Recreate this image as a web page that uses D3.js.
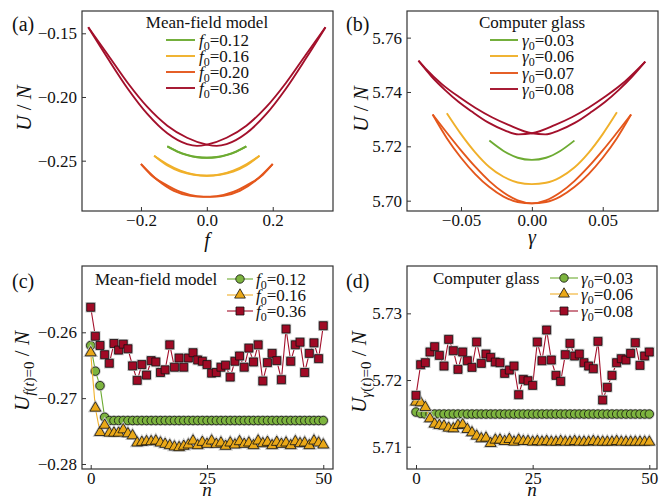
<!DOCTYPE html>
<html>
<head>
<meta charset="utf-8">
<title></title>
<style>
  body { margin: 0; background: #fff; }
  text { font-family: "Liberation Serif", "Times New Roman", Times, serif; fill: #111; }
</style>
</head>
<body>
<svg id="chart" xmlns="http://www.w3.org/2000/svg" width="667" height="502"></svg>

<script src="https://d3js.org/d3.v7.min.js"></script>
<script>

// ---- (a) mean-field model: U/N vs f, one loop per amplitude, two branches each
const mf012Down = [[-0.12,-0.2388],[-0.09,-0.2428],[-0.06,-0.2456],[-0.03,-0.2473],[0,-0.2477],[0.03,-0.2471],[0.06,-0.2454],[0.09,-0.2426],[0.12,-0.2388]];
const mf012Up   = [[-0.12,-0.2388],[-0.09,-0.2426],[-0.06,-0.2454],[-0.03,-0.2471],[0,-0.2477],[0.03,-0.2473],[0.06,-0.2456],[0.09,-0.2428],[0.12,-0.2388]];
const mf016Down = [[-0.16,-0.2461],[-0.12,-0.2528],[-0.08,-0.2578],[-0.04,-0.2608],[0,-0.2618],[0.04,-0.2610],[0.08,-0.2585],[0.12,-0.2537],[0.16,-0.2461]];
const mf016Up   = [[-0.16,-0.2461],[-0.12,-0.2537],[-0.08,-0.2585],[-0.04,-0.2610],[0,-0.2618],[0.04,-0.2608],[0.08,-0.2578],[0.12,-0.2528],[0.16,-0.2461]];
const mf020Down = [[-0.20,-0.2526],[-0.15,-0.2652],[-0.10,-0.2737],[-0.05,-0.2776],[-0.01,-0.2784],[0.03,-0.2778],[0.08,-0.2745],[0.13,-0.2680],[0.17,-0.2610],[0.20,-0.2526]];
const mf020Up   = [[-0.20,-0.2526],[-0.17,-0.2610],[-0.13,-0.2680],[-0.08,-0.2745],[-0.03,-0.2778],[0.01,-0.2784],[0.05,-0.2776],[0.10,-0.2737],[0.15,-0.2652],[0.20,-0.2526]];
const mf036Down = [[-0.36,-0.1453],[-0.30,-0.1700],[-0.24,-0.1935],[-0.18,-0.2135],[-0.12,-0.2285],[-0.06,-0.2370],[-0.03,-0.2384],[0,-0.2374],[0.06,-0.2320],[0.12,-0.2225],[0.18,-0.2080],[0.24,-0.1890],[0.30,-0.1670],[0.36,-0.1453]];
const mf036Up   = [[-0.36,-0.1453],[-0.30,-0.1670],[-0.24,-0.1890],[-0.18,-0.2080],[-0.12,-0.2225],[-0.06,-0.2320],[0,-0.2374],[0.03,-0.2384],[0.06,-0.2370],[0.12,-0.2285],[0.18,-0.2135],[0.24,-0.1935],[0.30,-0.1700],[0.36,-0.1453]];

// ---- (b) computer glass: U/N vs gamma
const cg003Down = [[-0.03,5.7221],[-0.02,5.7183],[-0.01,5.7158],[0,5.7150],[0.01,5.7158],[0.02,5.7183],[0.03,5.7221]];
const cg006Down = [[-0.06,5.7322],[-0.05,5.7245],[-0.04,5.7178],[-0.03,5.7124],[-0.02,5.7088],[-0.01,5.7067],[0,5.7061],[0.01,5.7066],[0.02,5.7086],[0.03,5.7122],[0.04,5.7176],[0.05,5.7245],[0.06,5.7325]];
const cg007Down = [[-0.07,5.7317],[-0.06,5.7250],[-0.05,5.7185],[-0.04,5.7125],[-0.03,5.7072],[-0.02,5.7030],[-0.01,5.7001],[0,5.6990],[0.01,5.6995],[0.02,5.7015],[0.03,5.7050],[0.04,5.7098],[0.05,5.7158],[0.06,5.7230],[0.07,5.7317]];
const cg007Up   = [[-0.07,5.7317],[-0.06,5.7230],[-0.05,5.7158],[-0.04,5.7098],[-0.03,5.7050],[-0.02,5.7015],[-0.01,5.6995],[0,5.6990],[0.01,5.7001],[0.02,5.7030],[0.03,5.7072],[0.04,5.7125],[0.05,5.7185],[0.06,5.7250],[0.07,5.7317]];
const cg008Down = [[-0.080,5.7515],[-0.0706,5.7456],[-0.0612,5.7407],[-0.0518,5.7364],[-0.0424,5.7328],[-0.0306,5.7287],[-0.0188,5.7258],[-0.0094,5.7244],[0,5.7248],[0.0165,5.7279],[0.0282,5.7307],[0.040,5.7342],[0.0518,5.7383],[0.0635,5.7429],[0.0753,5.7487],[0.080,5.7512]];
const cg008Up   = [[-0.080,5.7515],[-0.0753,5.7488],[-0.0635,5.7429],[-0.0518,5.7383],[-0.040,5.7342],[-0.0282,5.7307],[-0.0165,5.7279],[0,5.7248],[0.0094,5.7244],[0.0188,5.7258],[0.0306,5.7287],[0.0424,5.7328],[0.0518,5.7364],[0.0612,5.7407],[0.0706,5.7456],[0.080,5.7512]];

// ---- (c) mean-field model: U at f(t)=0 vs cycle n
const cycles = d3.range(51);
const mfU012 = [-0.2620,-0.2659,-0.2681,-0.2729,-0.2734,-0.2734,-0.2734,-0.2734,-0.2734,-0.2734,
  -0.2734,-0.2734,-0.2734,-0.2734,-0.2734,-0.2734,-0.2734,-0.2734,-0.2734,-0.2734,
  -0.2734,-0.2734,-0.2734,-0.2734,-0.2734,-0.2734,-0.2734,-0.2734,-0.2734,-0.2734,
  -0.2734,-0.2734,-0.2734,-0.2734,-0.2734,-0.2734,-0.2734,-0.2734,-0.2734,-0.2734,
  -0.2734,-0.2734,-0.2734,-0.2734,-0.2734,-0.2734,-0.2734,-0.2734,-0.2734,-0.2734,-0.2734];
const mfU016 = [-0.2631,-0.2715,-0.2752,-0.2741,-0.2753,-0.2753,-0.2753,-0.2748,-0.2754,-0.2757,
  -0.2768,-0.2767,-0.2766,-0.2766,-0.2765,-0.2768,-0.2770,-0.2772,-0.2774,-0.2775,
  -0.2773,-0.2771,-0.2765,-0.2772,-0.2767,-0.2770,-0.2765,-0.2770,-0.2768,-0.2773,
  -0.2768,-0.2771,-0.2766,-0.2770,-0.2768,-0.2772,-0.2765,-0.2769,-0.2767,-0.2772,
  -0.2767,-0.2770,-0.2768,-0.2772,-0.2766,-0.2769,-0.2768,-0.2772,-0.2765,-0.2768,-0.2771];
const mfU036 = [-0.2562,-0.2606,-0.2620,-0.2634,-0.2647,-0.2617,-0.2627,-0.2618,-0.2625,-0.2651,
  -0.2673,-0.2649,-0.2665,-0.2643,-0.2645,-0.2661,-0.2657,-0.2619,-0.2653,-0.2639,
  -0.2653,-0.2639,-0.2631,-0.2642,-0.2644,-0.2649,-0.2662,-0.2661,-0.2653,-0.2650,
  -0.2668,-0.2644,-0.2636,-0.2653,-0.2624,-0.2645,-0.2619,-0.2674,-0.2646,-0.2632,
  -0.2643,-0.2672,-0.2595,-0.2644,-0.2619,-0.2615,-0.2661,-0.2632,-0.2616,-0.2640,-0.2590];

// ---- (d) computer glass: U at gamma(t)=0 vs cycle n
const cgU003 = [5.7152,5.7150,5.7149,5.7149,5.7149,5.7149,5.7149,5.7149,5.7149,5.7149,
  5.7149,5.7149,5.7149,5.7149,5.7149,5.7149,5.7149,5.7149,5.7149,5.7149,
  5.7149,5.7149,5.7149,5.7149,5.7149,5.7149,5.7149,5.7149,5.7149,5.7149,
  5.7149,5.7149,5.7149,5.7149,5.7149,5.7149,5.7149,5.7149,5.7149,5.7149,
  5.7149,5.7149,5.7149,5.7149,5.7149,5.7149,5.7149,5.7149,5.7149,5.7149,5.7149];
const cgU006 = [5.7167,5.7166,5.7159,5.7142,5.7134,5.7132,5.7131,5.7128,5.7127,5.7132,
  5.7133,5.7126,5.7121,5.7116,5.7112,5.7113,5.7105,5.7110,5.7110,5.7108,
  5.7111,5.7107,5.7110,5.7108,5.7108,5.7107,5.7108,5.7107,5.7108,5.7107,
  5.7107,5.7108,5.7107,5.7107,5.7108,5.7107,5.7107,5.7107,5.7108,5.7107,
  5.7107,5.7107,5.7107,5.7108,5.7107,5.7107,5.7107,5.7107,5.7107,5.7107,5.7107];
const cgU008 = [5.7177,5.7223,5.7226,5.7242,5.7250,5.7237,5.7221,5.7261,5.7244,5.7216,
  5.7242,5.7229,5.7219,5.7257,5.7225,5.7239,5.7234,5.7227,5.7226,5.7210,
  5.7215,5.7221,5.7178,5.7201,5.7199,5.7192,5.7257,5.7229,5.7275,5.7230,
  5.7207,5.7198,5.7238,5.7255,5.7236,5.7239,5.7226,5.7221,5.7217,5.7258,
  5.7170,5.7189,5.7207,5.7226,5.7232,5.7230,5.7240,5.7256,5.7222,5.7236,5.7242];

// ---- legend labels and ticks
const mfAmps = ["0.12", "0.16", "0.20", "0.36"];
const cgAmps = ["0.03", "0.06", "0.07", "0.08"];
const mfAmpsN = ["0.12", "0.16", "0.36"];
const cgAmpsN = ["0.03", "0.06", "0.08"];
const ticksAx = [-0.2, 0, 0.2], ticksAy = [-0.25, -0.20, -0.15];
const ticksBx = [-0.05, 0, 0.05], ticksBy = [5.70, 5.72, 5.74, 5.76];
const ticksCx = [0, 25, 50], ticksCy = [-0.28, -0.27, -0.26];
const ticksDx = [0, 25, 50], ticksDy = [5.71, 5.72, 5.73];

const serif = '"Liberation Serif", "Times New Roman", Times, serif';
const green = "#6dab32", yellow = "#f0b02a", orange = "#e4571c", red = "#a3102b";
const fillG = "#7db43f", fillY = "#eaa818", fillR = "#a00a25";

const svg = d3.select("#chart").style("font-family", serif);

function makePanel(o) {
  const x = d3.scaleLinear().domain(o.xd).range([o.l, o.r]);
  const y = d3.scaleLinear().domain(o.yd).range([o.b, o.t]);
  const g = svg.append("g");

  g.append("g")
      .attr("transform", `translate(0,${o.b})`)
      .call(d3.axisBottom(x).tickValues(o.xt).tickFormat(d3.format(o.xf)).tickSize(-4).tickPadding(3))
      .call(a => a.select(".domain").remove());
  g.append("g")
      .attr("transform", `translate(${o.l},0)`)
      .call(d3.axisLeft(y).tickValues(o.yt).tickFormat(d3.format(o.yf)).tickSize(-4).tickPadding(5))
      .call(a => a.select(".domain").remove());
  g.selectAll("g").attr("font-family", serif).attr("font-size", 17);
  g.selectAll(".tick line").attr("stroke", "#333").attr("stroke-width", 1);
  g.selectAll(".tick text").attr("fill", "#111");

  g.append("rect")
      .attr("x", o.l).attr("y", o.t)
      .attr("width", o.r - o.l).attr("height", o.b - o.t)
      .attr("fill", "none").attr("stroke", "#333").attr("stroke-width", 1.2);

  g.append("text").attr("x", o.lx).attr("y", o.ly)
      .style("font-size", "20px").text(o.letter);
  return {g, x, y};
}

function loops(p, series) {
  const line = d3.line().x(d => p.x(d[0])).y(d => p.y(d[1])).curve(d3.curveMonotoneX);
  p.g.append("g").attr("fill", "none").attr("stroke-width", 1.9)
    .selectAll("path")
    .data(series)
    .join("path")
      .attr("stroke", d => d.c)
      .attr("d", d => line(d.pts));
}

function subLabel(t, sym, val) {
  t.append("tspan").style("font-style", "italic").text(sym);
  t.append("tspan").attr("dy", 4).style("font-size", "12px").text("0");
  t.append("tspan").attr("dy", -4).text("=" + val);
}

function lineLegend(p, o) {
  p.g.append("text").attr("x", o.tx).attr("y", o.ty).attr("text-anchor", o.anchor)
      .style("font-size", "17px").text(o.title);
  const row = p.g.selectAll(".lg").data(o.labels).join("g")
      .attr("transform", (d, i) => `translate(0,${o.rows[i]})`);
  row.append("line").attr("x1", o.x1).attr("x2", o.x2)
      .attr("stroke", (d, i) => o.colors[i]).attr("stroke-width", 1.9);
  row.each(function(d) {
    const t = d3.select(this).append("text").attr("x", o.x2 + 4).attr("y", 6)
        .style("font-size", "17px");
    subLabel(t, o.sym, d);
  });
}

const symbols = [d3.symbolCircle, d3.symbolTriangle, d3.symbolSquare];
const symSize = [56, 50, 64];

function markerSeries(p, series) {
  const line = d3.line().x((d, i) => p.x(cycles[i])).y(d => p.y(d));
  series.forEach((s, k) => {
    const sg = p.g.append("g");
    sg.append("path").attr("d", line(s.v)).attr("fill", "none")
        .attr("stroke", s.c).attr("stroke-width", 1.1);
    const sym = d3.symbol().type(symbols[k]).size(symSize[k]);
    sg.selectAll("path.halo").data(s.v).join("path").attr("class", "halo")
        .attr("transform", (d, i) => `translate(${p.x(cycles[i])},${p.y(d)})`)
        .attr("d", sym).attr("fill", "none").attr("stroke", "#c4c4c4").attr("stroke-width", 2.4);
    sg.selectAll("path.mk").data(s.v).join("path").attr("class", "mk")
        .attr("transform", (d, i) => `translate(${p.x(cycles[i])},${p.y(d)})`)
        .attr("d", sym).attr("fill", s.f).attr("stroke", "#111").attr("stroke-width", 0.8);
  });
}

function markerLegend(p, o) {
  p.g.append("text").attr("x", o.tx).attr("y", o.ty)
      .style("font-size", "17px").text(o.title);
  o.labels.forEach((d, k) => {
    const r = p.g.append("g").attr("transform", `translate(0,${o.rows[k]})`);
    r.append("line").attr("x1", o.x1).attr("x2", o.x2).attr("stroke", o.colors[k]).attr("stroke-width", 1.1);
    r.append("path").attr("transform", `translate(${(o.x1 + o.x2) / 2},0)`)
        .attr("d", d3.symbol().type(symbols[k]).size(symSize[k]))
        .attr("fill", o.fills[k]).attr("stroke", "#111").attr("stroke-width", 0.8);
    const t = r.append("text").attr("x", o.x2 + 3).attr("y", 6).style("font-size", "17px");
    subLabel(t, o.sym, d);
  });
}

function yLabel(x, y, parts) {
  const t = svg.append("text").attr("transform", `translate(${x},${y}) rotate(-90)`)
      .attr("text-anchor", "middle").style("font-size", "21px");
  parts.forEach(([s, it, dy, fs]) => {
    const ts = t.append("tspan").text(s);
    if (it) ts.style("font-style", "italic");
    if (dy) ts.attr("dy", dy);
    if (fs) ts.style("font-size", fs);
  });
}

function xLabel(x, y, s, fs) {
  svg.append("text").attr("x", x).attr("y", y).attr("text-anchor", "middle")
      .style("font-size", fs + "px").style("font-style", "italic").text(s);
}

// ---------- panel (a)
const pa = makePanel({l: 82, r: 333, t: 11, b: 211, xd: [-0.379, 0.383], yd: [-0.2895, -0.1325],
  xt: ticksAx, yt: ticksAy, xf: ".1f", yf: ".2f", letter: "(a)", lx: 12, ly: 31});
loops(pa, [
  {c: green, pts: mf012Down}, {c: green, pts: mf012Up},
  {c: yellow, pts: mf016Down}, {c: yellow, pts: mf016Up},
  {c: orange, pts: mf020Down}, {c: orange, pts: mf020Up},
  {c: red, pts: mf036Down}, {c: red, pts: mf036Up}
]);
lineLegend(pa, {title: "Mean-field model", tx: 207, ty: 28, anchor: "middle", labels: mfAmps,
  rows: [40, 56, 72, 88], x1: 166, x2: 195, colors: [green, yellow, orange, red], sym: "f"});
yLabel(31, 108, [["U", true], [" / ", false], ["N", true]]);
xLabel(207, 247, "f", 20);

// ---------- panel (b)
const pb = makePanel({l: 407, r: 658, t: 11, b: 211, xd: [-0.0881, 0.0890], yd: [5.6962, 5.7698],
  xt: ticksBx, yt: ticksBy, xf: ".2f", yf: ".2f", letter: "(b)", lx: 346, ly: 31});
loops(pb, [
  {c: green, pts: cg003Down},
  {c: yellow, pts: cg006Down},
  {c: orange, pts: cg007Down}, {c: orange, pts: cg007Up},
  {c: red, pts: cg008Down}, {c: red, pts: cg008Up}
]);
lineLegend(pb, {title: "Computer glass", tx: 532, ty: 28, anchor: "middle", labels: cgAmps,
  rows: [40, 56, 73, 89], x1: 490, x2: 518, colors: [green, yellow, orange, red], sym: "γ"});
yLabel(368, 109, [["U", true], [" / ", false], ["N", true]]);
xLabel(532, 244, "γ", 20);

// ---------- panel (c)
const pc = makePanel({l: 82, r: 333, t: 266, b: 469, xd: [-1.87, 52.09], yd: [-0.28076, -0.24993],
  xt: ticksCx, yt: ticksCy, xf: "d", yf: ".2f", letter: "(c)", lx: 12, ly: 288});
markerSeries(pc, [
  {v: mfU012, c: green, f: fillG},
  {v: mfU016, c: yellow, f: fillY},
  {v: mfU036, c: red, f: fillR}
]);
markerLegend(pc, {title: "Mean-field model", tx: 95, ty: 285, labels: mfAmpsN, rows: [279, 295, 311],
  x1: 227, x2: 253, colors: [green, yellow, red], fills: [fillG, fillY, fillR], sym: "f"});
yLabel(29, 371, [["U", true], ["f", true, 5, "15px"], ["(", false, 0, "15px"], ["t", true, 0, "15px"],
  [")=0", false, 0, "15px"], [" / ", false, -5], ["N", true]]);
xLabel(207, 496, "n", 19);

// ---------- panel (d)
const pd = makePanel({l: 407, r: 657, t: 266, b: 469, xd: [-1.93, 51.65], yd: [5.70666, 5.7371],
  xt: ticksDx, yt: ticksDy, xf: "d", yf: ".2f", letter: "(d)", lx: 346, ly: 288});
markerSeries(pd, [
  {v: cgU003, c: green, f: fillG},
  {v: cgU006, c: yellow, f: fillY},
  {v: cgU008, c: red, f: fillR}
]);
markerLegend(pd, {title: "Computer glass", tx: 433, ty: 284, labels: cgAmpsN, rows: [278, 294, 311],
  x1: 550, x2: 578, colors: [green, yellow, red], fills: [fillG, fillY, fillR], sym: "γ"});
yLabel(366, 372, [["U", true], ["γ", true, 5, "15px"], ["(", false, 0, "15px"], ["t", true, 0, "15px"],
  [")=0", false, 0, "15px"], [" / ", false, -5], ["N", true]]);
xLabel(532, 496, "n", 19);

</script>
</body>
</html>
